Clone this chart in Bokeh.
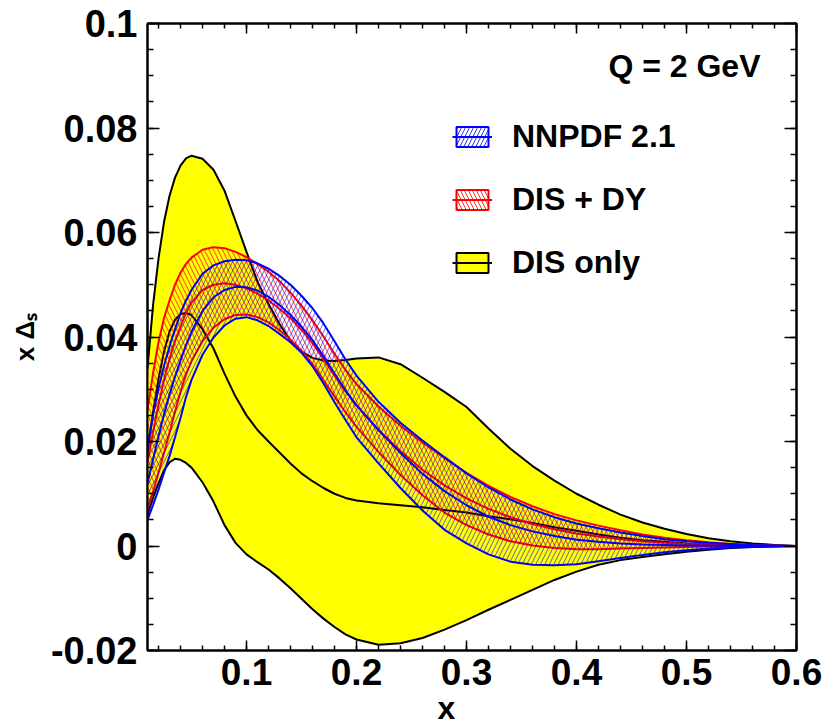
import numpy as np
from bokeh.plotting import figure
from bokeh.models import Range1d, LinearAxis, FixedTicker, Label, Legend, LegendItem, Title
from bokeh.embed import file_html
from bokeh.resources import INLINE

# ---------------- data ----------------
x = [0.01, 0.015, 0.02, 0.025, 0.03, 0.035, 0.04, 0.045, 0.05, 0.06, 0.07, 0.08, 0.09, 0.10,
     0.11, 0.12, 0.13, 0.14, 0.15, 0.16, 0.17, 0.18, 0.19, 0.20,
     0.22, 0.24, 0.26, 0.28, 0.30, 0.32, 0.34, 0.36, 0.38, 0.40,
     0.42, 0.44, 0.46, 0.48, 0.50, 0.52, 0.54, 0.56, 0.58, 0.60]

# DIS only (yellow band)
dis_upper = [0.0340, 0.0460, 0.0550, 0.0620, 0.0670, 0.0705, 0.0728, 0.0742, 0.0747, 0.0741, 0.0720, 0.0680, 0.0622, 0.0563,
             0.0506, 0.0463, 0.0425, 0.0393, 0.0372, 0.0360, 0.0355, 0.0354, 0.0356, 0.0359,
             0.0361, 0.0348, 0.0322, 0.0295, 0.0266, 0.0225, 0.0186, 0.0153, 0.0125, 0.0100,
             0.0079, 0.0060, 0.0045, 0.0033, 0.0023, 0.0015, 0.0009, 0.0005, 0.0002, 0.0]
dis_central = [0.0180, 0.0255, 0.0320, 0.0372, 0.0410, 0.0433, 0.0444, 0.0446, 0.0442, 0.0415, 0.0378, 0.0330, 0.0286, 0.0250,
               0.0222, 0.0200, 0.0179, 0.0158, 0.0139, 0.0124, 0.0111, 0.0100, 0.0092, 0.0087,
               0.0082, 0.0078, 0.0074, 0.0069, 0.0064, 0.0057, 0.0051, 0.0044, 0.0036, 0.0029,
               0.0022, 0.0016, 0.0011, 0.0008, 0.0005, 0.0003, 0.0002, 0.0001, 0.0, 0.0]
dis_lower = [0.0060, 0.0092, 0.0120, 0.0145, 0.0160, 0.0167, 0.0165, 0.0159, 0.0150, 0.0122, 0.0085, 0.0040, 0.0006, -0.0016,
             -0.0031, -0.0045, -0.0062, -0.0081, -0.0101, -0.0121, -0.0139, -0.0155, -0.0169, -0.0179,
             -0.0189, -0.0186, -0.0176, -0.0160, -0.0142, -0.0122, -0.0103, -0.0084, -0.0065, -0.0049,
             -0.0036, -0.0027, -0.0021, -0.0016, -0.0011, -0.0007, -0.0004, -0.0002, -0.0001, 0.0]

# DIS + DY (red hatched band)
dy_upper = [0.0260, 0.0330, 0.0390, 0.0436, 0.0470, 0.0500, 0.0523, 0.0540, 0.0552, 0.0567, 0.0572, 0.0570, 0.0563, 0.0553,
            0.0540, 0.0525, 0.0507, 0.0485, 0.0460, 0.0432, 0.0401, 0.0368, 0.0337, 0.0310,
            0.0267, 0.0230, 0.0198, 0.0168, 0.0140, 0.0115, 0.0094, 0.0076, 0.0061, 0.0049,
            0.0039, 0.0030, 0.0022, 0.0016, 0.0011, 0.0007, 0.0004, 0.0002, 0.0001, 0.0]
dy_central = [0.0160, 0.0218, 0.0270, 0.0318, 0.0358, 0.0392, 0.0420, 0.0446, 0.0466, 0.0490, 0.0500, 0.0503, 0.0500, 0.0493,
              0.0483, 0.0470, 0.0454, 0.0436, 0.0414, 0.0388, 0.0358, 0.0326, 0.0296, 0.0269,
              0.0222, 0.0182, 0.0146, 0.0116, 0.0091, 0.0071, 0.0055, 0.0042, 0.0032, 0.0024,
              0.0018, 0.0013, 0.0009, 0.0006, 0.0004, 0.0003, 0.0002, 0.0001, 0.0, 0.0]
dy_lower = [0.0070, 0.0104, 0.0140, 0.0178, 0.0216, 0.0257, 0.0295, 0.0328, 0.0354, 0.0392, 0.0418, 0.0434, 0.0442, 0.0443,
            0.0438, 0.0428, 0.0413, 0.0395, 0.0374, 0.0348, 0.0317, 0.0286, 0.0256, 0.0228,
            0.0180, 0.0136, 0.0097, 0.0064, 0.0040, 0.0022, 0.0009, 0.0001, -0.0004, -0.0006,
            -0.0006, -0.0005, -0.0004, -0.0003, -0.0002, -0.0001, -0.0001, 0.0, 0.0, 0.0]

# NNPDF 2.1 (blue hatched band)
nn_upper = [0.0190, 0.0250, 0.0302, 0.0345, 0.0382, 0.0415, 0.0445, 0.0470, 0.0490, 0.0521, 0.0537, 0.0545, 0.0548, 0.0547,
            0.0541, 0.0531, 0.0517, 0.0500, 0.0479, 0.0455, 0.0426, 0.0392, 0.0357, 0.0326,
            0.0276, 0.0236, 0.0202, 0.0170, 0.0139, 0.0112, 0.0089, 0.0070, 0.0055, 0.0043,
            0.0034, 0.0026, 0.0019, 0.0013, 0.0009, 0.0006, 0.0004, 0.0002, 0.0001, 0.0]
nn_central = [0.0120, 0.0165, 0.0210, 0.0252, 0.0290, 0.0324, 0.0355, 0.0384, 0.0410, 0.0450, 0.0476, 0.0490, 0.0496, 0.0495,
              0.0489, 0.0477, 0.0461, 0.0442, 0.0420, 0.0394, 0.0363, 0.0330, 0.0298, 0.0269,
              0.0222, 0.0178, 0.0138, 0.0105, 0.0078, 0.0056, 0.0040, 0.0028, 0.0019, 0.0012,
              0.0008, 0.0005, 0.0003, 0.0002, 0.0001, 0.0001, 0.0, 0.0, 0.0, 0.0]
nn_lower = [0.0050, 0.0078, 0.0108, 0.0140, 0.0172, 0.0208, 0.0245, 0.0285, 0.0318, 0.0366, 0.0399, 0.0422, 0.0435, 0.0438,
            0.0432, 0.0421, 0.0406, 0.0390, 0.0370, 0.0344, 0.0311, 0.0275, 0.0241, 0.0208,
            0.0158, 0.0111, 0.0068, 0.0031, 0.0005, -0.0016, -0.0030, -0.0036, -0.0037, -0.0035,
            -0.0029, -0.0023, -0.0017, -0.0012, -0.0008, -0.0005, -0.0003, -0.0002, -0.0001, 0.0]

x_ticks = [0.1, 0.2, 0.3, 0.4, 0.5, 0.6]
x_tick_labels = ["0.1", "0.2", "0.3", "0.4", "0.5", "0.6"]
y_ticks = [-0.02, 0.0, 0.02, 0.04, 0.06, 0.08, 0.1]
y_tick_labels = ["-0.02", "0", "0.02", "0.04", "0.06", "0.08", "0.1"]

series_names = ["NNPDF 2.1", "DIS + DY", "DIS only"]
x_title = "x"
y_title = "x \u0394\u209b"   # x Delta_s
annotation = "Q = 2 GeV"

# ---------------- layout ----------------
W, H = 834, 726
L, R, T, B = 147, 38, 23, 76
XMIN, XMAX, YMIN, YMAX = 0.01, 0.6, -0.02, 0.1
FONT = "Liberation Sans"

p = figure(width=W, height=H, output_backend="svg", toolbar_location=None,
           x_range=Range1d(XMIN, XMAX), y_range=Range1d(YMIN, YMAX),
           min_border_left=L, min_border_right=R, min_border_top=T, min_border_bottom=B)
p.background_fill_color = "white"
p.border_fill_color = "white"
p.outline_line_color = "black"
p.outline_line_width = 2
p.xgrid.visible = False
p.ygrid.visible = False

fw = W - L - R
fh = H - T - B


def dx(px):  # screen x pixel -> data x
    return XMIN + (px - L) / fw * (XMAX - XMIN)


def dy(py):  # screen y pixel -> data y
    return YMAX - (py - T) / fh * (YMAX - YMIN)


x_minor = [round(v, 3) for v in np.arange(0.02, 0.6001, 0.02)]
y_minor = [round(v, 4) for v in np.arange(-0.02, 0.1001, 0.005)]


def style_axis(ax, ticks, minor, major_in, minor_in, labels, size="37px", standoff=8):
    ax.ticker = FixedTicker(ticks=ticks, minor_ticks=minor)
    ax.axis_line_color = "black"
    ax.axis_line_width = 2
    ax.major_tick_in = major_in
    ax.major_tick_out = 0
    ax.minor_tick_in = minor_in
    ax.minor_tick_out = 0
    ax.major_tick_line_width = 1.5
    ax.minor_tick_line_width = 1.5
    ax.major_tick_line_color = "black"
    ax.minor_tick_line_color = "black"
    ax.major_label_overrides = labels
    ax.major_label_text_font = FONT
    ax.major_label_text_font_style = "bold"
    ax.major_label_text_font_size = size
    ax.major_label_text_color = "black"
    ax.major_label_standoff = standoff


style_axis(p.xaxis[0], x_ticks, x_minor, 10, 5, dict(zip(x_ticks, x_tick_labels)), "37px", 8)
style_axis(p.yaxis[0], y_ticks, y_minor, 12, 6, dict(zip(y_ticks, y_tick_labels)), "38px", 10)

# y axis title
p.yaxis[0].axis_label = y_title
p.yaxis[0].axis_label_text_font = FONT
p.yaxis[0].axis_label_text_font_style = "bold"
p.yaxis[0].axis_label_text_font_size = "26px"
p.yaxis[0].axis_label_text_color = "black"
p.yaxis[0].axis_label_standoff = 8

# x axis title: a title panel below the axis, placed under x = 0.28
p.add_layout(Title(text=x_title, align="left", offset=290, standoff=0,
                   text_font=FONT, text_font_style="bold", text_font_size="32px",
                   text_color="black"), "below")

# mirrored tick marks on top and right (no labels)
top_ax = LinearAxis()
right_ax = LinearAxis()
style_axis(top_ax, x_ticks, x_minor, 10, 5, {t: "" for t in x_ticks}, "10px", 0)
style_axis(right_ax, y_ticks, y_minor, 12, 6, {t: "" for t in y_ticks}, "10px", 0)
p.add_layout(top_ax, "above")
p.add_layout(right_ax, "right")

# ---------------- glyphs ----------------
YELLOW = "#ffff00"
RED = "#ff0000"
BLUE = "#0000ff"

p.varea(x=x, y1=dis_lower, y2=dis_upper, fill_color=YELLOW, fill_alpha=1.0)
for ys in (dis_upper, dis_lower, dis_central):
    p.line(x, ys, line_color="black", line_width=2)

p.varea(x=x, y1=dy_lower, y2=dy_upper, fill_alpha=0, hatch_pattern="\\",
        hatch_color=RED, hatch_alpha=0.75, hatch_scale=9, hatch_weight=1)
for ys in (dy_upper, dy_lower, dy_central):
    p.line(x, ys, line_color=RED, line_width=2)

p.varea(x=x, y1=nn_lower, y2=nn_upper, fill_alpha=0, hatch_pattern="/",
        hatch_color=BLUE, hatch_alpha=0.6, hatch_scale=9, hatch_weight=1)
for ys in (nn_upper, nn_lower, nn_central):
    p.line(x, ys, line_color=BLUE, line_width=2)

# legend swatches: renderers whose single point is NaN (never drawn in the plot)
nan = [np.nan]
q_nn = p.quad(left=nan, right=nan, top=nan, bottom=nan, fill_alpha=0, hatch_pattern="/",
              hatch_color=BLUE, hatch_alpha=0.8, hatch_scale=8, hatch_weight=1,
              line_color=BLUE, line_width=2)
q_dy = p.quad(left=nan, right=nan, top=nan, bottom=nan, fill_alpha=0, hatch_pattern="\\",
              hatch_color=RED, hatch_alpha=0.8, hatch_scale=8, hatch_weight=1,
              line_color=RED, line_width=2)
q_dis = p.quad(left=nan, right=nan, top=nan, bottom=nan, fill_color=YELLOW,
               line_color="black", line_width=2)
l_nn = p.line(nan, nan, line_color=BLUE, line_width=2)
l_dy = p.line(nan, nan, line_color=RED, line_width=2)
l_dis = p.line(nan, nan, line_color="black", line_width=2)

legend = Legend(items=[
    LegendItem(label=series_names[0], renderers=[q_nn, l_nn]),
    LegendItem(label=series_names[1], renderers=[q_dy, l_dy]),
    LegendItem(label=series_names[2], renderers=[q_dis, l_dis]),
])
legend.location = (452 - L, H - B - 282)
legend.orientation = "vertical"
legend.border_line_alpha = 0
legend.background_fill_alpha = 0
legend.padding = 0
legend.margin = 0
legend.spacing = 23
legend.glyph_width = 40
legend.glyph_height = 25
legend.label_height = 40
legend.label_standoff = 20
legend.label_text_font = FONT
legend.label_text_font_style = "bold"
legend.label_text_font_size = "32px"
legend.label_text_color = "black"
p.add_layout(legend)

# ---------------- texts ----------------
p.add_layout(Label(x=dx(760), y=dy(65), text=annotation, text_align="right",
                   text_baseline="alphabetic", text_font=FONT, text_font_style="bold",
                   text_font_size="32px", text_color="black"))

open("out.html", "w").write(file_html(p, INLINE))
